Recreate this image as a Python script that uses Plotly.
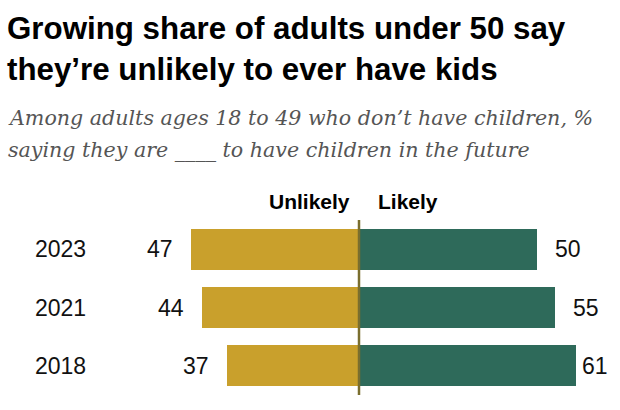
import plotly.graph_objects as go

# ---- data ----
years = ["2023", "2021", "2018"]
unlikely = [47, 44, 37]
likely = [50, 55, 61]
series_names = ["Unlikely", "Likely"]
title_lines = ["Growing share of adults under 50 say",
               "they\u2019re unlikely to ever have kids"]
subtitle_lines = ["Among adults ages 18 to 49 who don\u2019t have children, %",
                  "saying they are ____ to have children in the future"]

# ---- style / layout constants ----
W, H = 620, 410
PX_PER_UNIT = 3.565
CENTER_PX = 359
TOP, BOTTOM = 220, 15
PLOT_H = H - TOP - BOTTOM
GOLD = "#C9A02C"
GREEN = "#2E6A5A"
LINE = "#7A6E2E"
SANS = "Liberation Sans, Arial, sans-serif"
SERIF = "DejaVu Serif, Georgia, serif"

x_min = -CENTER_PX / PX_PER_UNIT
x_max = (W - CENTER_PX) / PX_PER_UNIT
cat_order = list(reversed(years))


def py(pix):
    """pixel row -> paper y"""
    return (H - BOTTOM - pix) / PLOT_H


fig = go.Figure()
fig.add_trace(go.Bar(y=years, x=[-v for v in unlikely], orientation="h",
                     marker=dict(color=GOLD, line=dict(width=0)), width=0.703,
                     name=series_names[0], hoverinfo="skip"))
fig.add_trace(go.Bar(y=years, x=likely, orientation="h",
                     marker=dict(color=GREEN, line=dict(width=0)), width=0.703,
                     name=series_names[1], hoverinfo="skip"))

ann = []
# year labels
for yr in years:
    ann.append(dict(x=33 / W, xref="paper", y=cat_order.index(yr), yref="y", text=yr,
                    xanchor="left", yanchor="middle", showarrow=False,
                    font=dict(family=SANS, size=23, color="#111")))
# value labels
GAP = 16
for yr, v in zip(years, unlikely):
    ann.append(dict(x=-v, xref="x", y=cat_order.index(yr), yref="y", text=str(v),
                    xanchor="right", yanchor="middle", showarrow=False,
                    xshift=-GAP, font=dict(family=SANS, size=23, color="#111")))
for yr, v in zip(years, likely):
    end_px = CENTER_PX + v * PX_PER_UNIT
    shift = min(GAP, 580 - end_px)
    ann.append(dict(x=v, xref="x", y=cat_order.index(yr), yref="y", text=str(v),
                    xanchor="left", yanchor="middle", showarrow=False,
                    xshift=shift, font=dict(family=SANS, size=23, color="#111")))
# headers
ann.append(dict(x=0, xref="x", y=py(201.5), yref="paper", text="<b>%s</b>" % series_names[0],
                xanchor="right", yanchor="middle", showarrow=False, xshift=-7,
                font=dict(family=SANS, size=21, color="#000")))
ann.append(dict(x=0, xref="x", y=py(201.5), yref="paper", text="<b>%s</b>" % series_names[1],
                xanchor="left", yanchor="middle", showarrow=False, xshift=17,
                font=dict(family=SANS, size=21, color="#000")))
# title
for line, ypix in zip(title_lines, [29, 69]):
    ann.append(dict(x=5 / W, xref="paper", y=py(ypix), yref="paper",
                    text="<b>%s</b>" % line, xanchor="left", yanchor="middle",
                    showarrow=False,
                    font=dict(family=SANS, size=31.3, color="#000")))
# subtitle
for line, ypix in zip(subtitle_lines, [117.5, 149.5]):
    ann.append(dict(x=6 / W, xref="paper", y=py(ypix), yref="paper",
                    text="<i>%s</i>" % line, xanchor="left", yanchor="middle",
                    showarrow=False,
                    font=dict(family=SERIF, size=20.6, color="#555555")))

fig.add_shape(type="line", xref="x", yref="paper", x0=0, x1=0, y0=0, y1=1,
              line=dict(color=LINE, width=2.5), layer="above")

fig.update_layout(
    width=W, height=H,
    margin=dict(l=0, r=0, t=TOP, b=BOTTOM),
    paper_bgcolor="white", plot_bgcolor="white",
    barmode="overlay", showlegend=False, bargap=0,
    xaxis=dict(range=[x_min, x_max], visible=False, fixedrange=True),
    yaxis=dict(type="category", categoryorder="array",
               categoryarray=cat_order, range=[-0.5, 2.5],
               visible=False, fixedrange=True),
    annotations=ann,
)

fig.write_html("out.html", config={"displayModeBar": False})
